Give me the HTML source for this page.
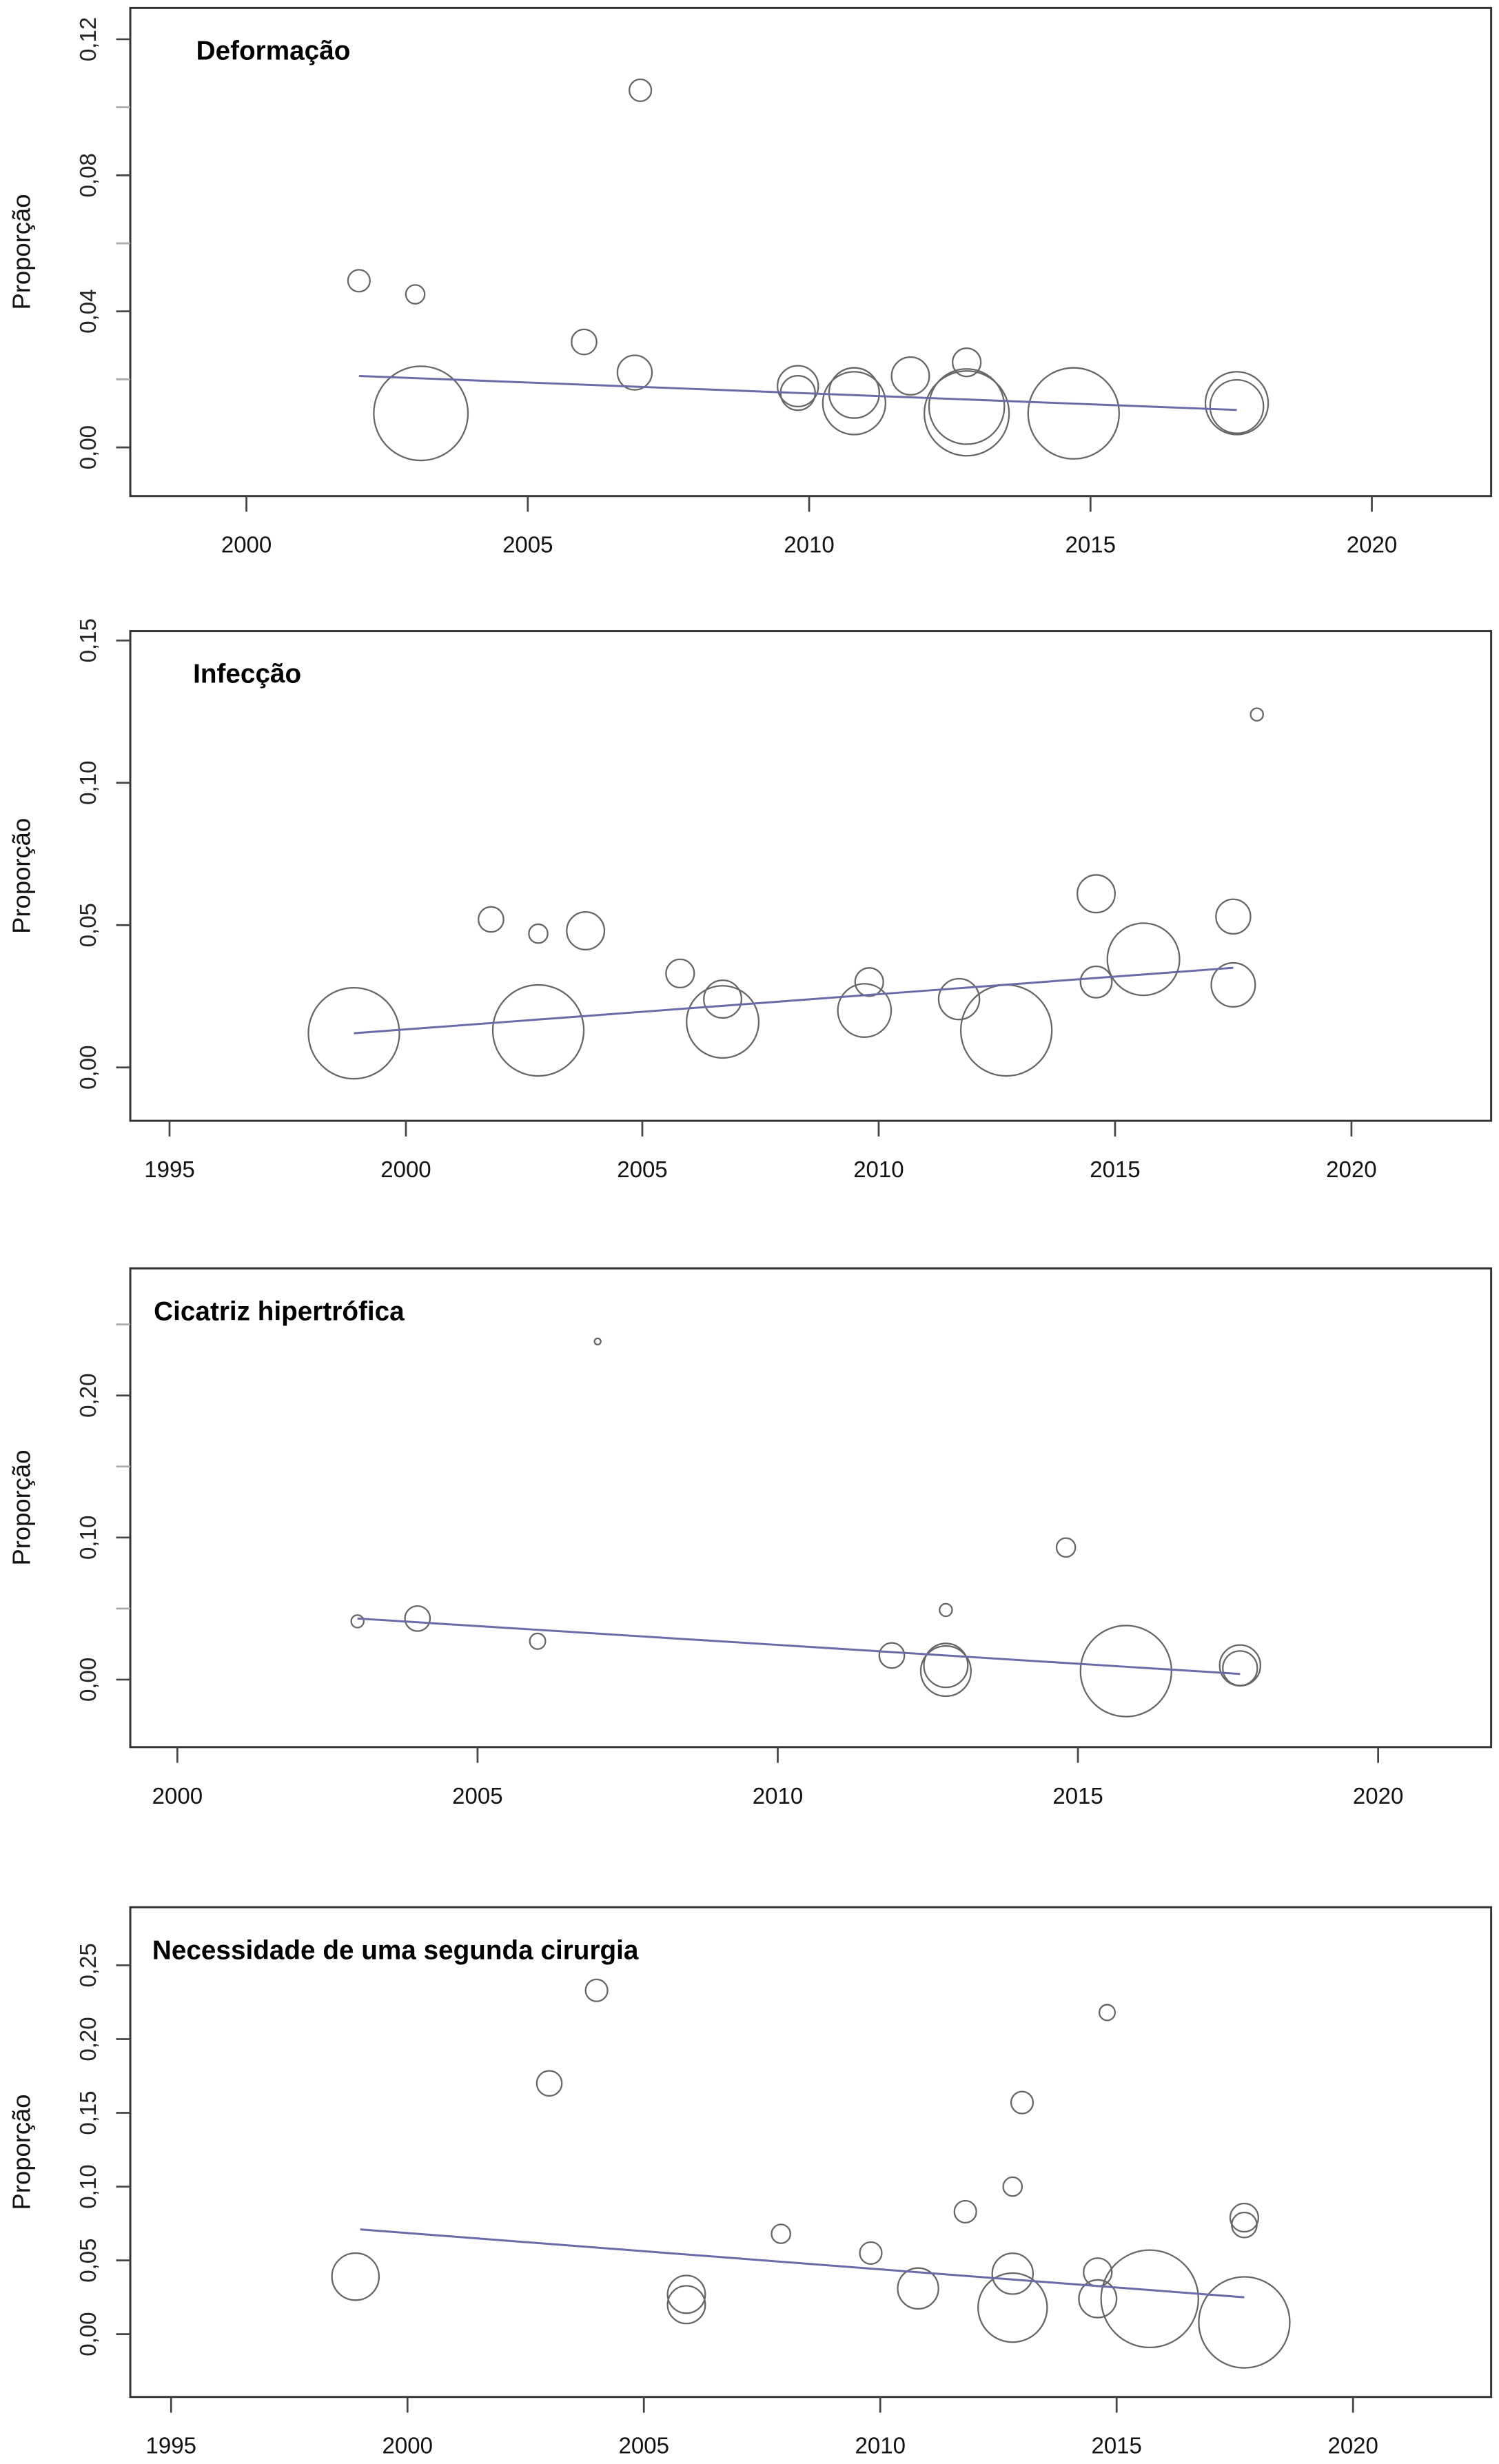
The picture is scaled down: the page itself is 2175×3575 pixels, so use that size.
<!DOCTYPE html>
<html><head><meta charset="utf-8"><style>
html,body{margin:0;padding:0;background:#fff;}
svg{display:block;}
text{font-family:"Liberation Sans",Arial,sans-serif;}
</style></head><body>
<svg id="chart" width="2175" height="3575" viewBox="0 0 955 1569.7" preserveAspectRatio="none" xmlns="http://www.w3.org/2000/svg"></svg>
<script>
// Panel 1: Deformação
const p1Years=[2002,2003,2003.1,2006,2007,2006.9,2009.8,2009.8,2010.8,2010.8,2011.8,2012.8,2012.8,2012.8,2014.7,2017.6,2017.6];
const p1Values=[0.049,0.045,0.010,0.031,0.105,0.022,0.018,0.016,0.016,0.013,0.021,0.025,0.012,0.010,0.010,0.013,0.012];
const p1Weights=[7,6,30,8,7,11,13,11,16,20,12,9,24,27,29,20,17];
const p1Trend=[[2002,0.021],[2017.6,0.011]];
const p1XTicks=[2000,2005,2010,2015,2020];
const p1YTicks=[0,0.02,0.04,0.06,0.08,0.10,0.12];
const p1YLabels=["0,00","","0,04","","0,08","","0,12"];
// Panel 2: Infecção
const p2Years=[1998.9,2001.8,2002.8,2002.8,2003.8,2005.8,2006.7,2006.7,2009.8,2009.7,2011.7,2012.7,2014.6,2014.6,2015.6,2017.5,2017.5,2018];
const p2Values=[0.012,0.052,0.047,0.013,0.048,0.033,0.024,0.016,0.030,0.020,0.024,0.013,0.061,0.030,0.038,0.053,0.029,0.124];
const p2Weights=[29,8,6,29,12,9,12,23,9,17,13,29,12,10,23,11,14,4];
const p2Trend=[[1998.9,0.012],[2017.5,0.035]];
const p2XTicks=[1995,2000,2005,2010,2015,2020];
const p2YTicks=[0,0.05,0.10,0.15];
const p2YLabels=["0,00","0,05","0,10","0,15"];
// Panel 3: Cicatriz hipertrófica
const p3Years=[2003,2004,2006,2007,2011.9,2012.8,2012.8,2012.8,2014.8,2015.8,2017.7,2017.7];
const p3Values=[0.041,0.043,0.027,0.238,0.017,0.049,0.010,0.006,0.093,0.006,0.010,0.008];
const p3Weights=[4,8,5,2,8,4,14,16,6,29,13,11];
const p3Trend=[[2003,0.043],[2017.7,0.004]];
const p3XTicks=[2000,2005,2010,2015,2020];
const p3YTicks=[0,0.05,0.10,0.15,0.20,0.25];
const p3YLabels=["0,00","","0,10","","0,20",""];
// Panel 4: Necessidade de uma segunda cirurgia
const p4Years=[1998.9,2003,2004,2005.9,2005.9,2007.9,2009.8,2010.8,2011.8,2012.8,2013,2012.8,2012.8,2014.8,2014.6,2014.6,2015.7,2017.7,2017.7,2017.7];
const p4Values=[0.039,0.170,0.233,0.027,0.020,0.068,0.055,0.031,0.083,0.100,0.157,0.041,0.018,0.218,0.042,0.024,0.024,0.079,0.074,0.008];
const p4Weights=[15,8,7,12,12,6,7,13,7,6,7,13,22,5,9,12,31,9,8,29];
const p4Trend=[[1999,0.071],[2017.7,0.025]];
const p4XTicks=[1995,2000,2005,2010,2015,2020];
const p4YTicks=[0,0.05,0.10,0.15,0.20,0.25];
const p4YLabels=["0,00","0,05","0,10","0,15","0,20","0,25"];

const NS="http://www.w3.org/2000/svg";
const svg=document.getElementById('chart');
function mk(tag,attrs,parent){const e=document.createElementNS(NS,tag);for(const k in attrs)e.setAttribute(k,attrs[k]);(parent||svg).appendChild(e);return e;}

function panel(cfg){
  const g=mk('g',{});
  
  
  const xs=v=>cfg.x0px+(v-cfg.x0)*(cfg.x1px-cfg.x0px)/(cfg.x1-cfg.x0);
  const ys=v=>cfg.y0px+(v-cfg.y0)*(cfg.y1px-cfg.y0px)/(cfg.y1-cfg.y0);
  const box=mk('rect',{x:83,y:cfg.top,width:867,height:cfg.bottom-cfg.top,fill:'none',stroke:'#333','stroke-width':1.3},g);
  
  
  cfg.xTicks.forEach(t=>{
    const l=mk('line',{x1:xs(t),x2:xs(t),y1:cfg.bottom,y2:cfg.bottom+10,stroke:'#444','stroke-width':1.2},g);
    
    
    const tx=mk('text',{x:xs(t),y:cfg.bottom+36,'text-anchor':'middle','font-size':14.5,fill:'#111'},g);
    tx.textContent=t;
    
    
  });
  cfg.yTicks.forEach((t,i)=>{
    const y=ys(t);
    const l=mk('line',{x1:74,x2:83,y1:y,y2:y,stroke:cfg.yLabels[i]?'#444':'#aaa','stroke-width':1.2},g);
    
    
    if(cfg.yLabels[i]){
      const tx=mk('text',{x:0,y:0,'text-anchor':'middle','font-size':14.5,fill:'#222',transform:`translate(61,${y}) rotate(-90)`},g);
      tx.textContent=cfg.yLabels[i];
      
      
    }
  });
  const yl=mk('text',{x:0,y:0,'text-anchor':'middle','font-size':16,fill:'#111',transform:`translate(19,${(cfg.top+cfg.bottom)/2}) rotate(-90)`},g);
  yl.textContent='Proporção';
  
  
  const ti=mk('text',{x:cfg.titleX,y:cfg.top+33,'font-size':17,'font-weight':'bold',fill:'#000'},g);
  ti.textContent=cfg.title;
  
  
  cfg.years.forEach((yr,i)=>{
    const c=mk('circle',{cx:xs(yr),cy:ys(cfg.values[i]),r:cfg.weights[i],fill:'none',stroke:'#666','stroke-width':1},g);
    
    
  });
  const tl=mk('line',{x1:xs(cfg.trend[0][0]),y1:ys(cfg.trend[0][1]),x2:xs(cfg.trend[1][0]),y2:ys(cfg.trend[1][1]),stroke:'#6a6aa8','stroke-width':1.3},g);
  
  
}

panel({name:'panel-deformacao',title:'Deformação',titleX:125,top:5,bottom:316,
  x0:2000,x1:2020,x0px:157,x1px:874,y0:0,y1:0.12,y0px:285,y1px:25,
  xTicks:p1XTicks,yTicks:p1YTicks,yLabels:p1YLabels,years:p1Years,values:p1Values,weights:p1Weights,trend:p1Trend});
panel({name:'panel-infeccao',title:'Infecção',titleX:123,top:402,bottom:714,
  x0:1995,x1:2020,x0px:108,x1px:861,y0:0,y1:0.15,y0px:680,y1px:408,
  xTicks:p2XTicks,yTicks:p2YTicks,yLabels:p2YLabels,years:p2Years,values:p2Values,weights:p2Weights,trend:p2Trend});
panel({name:'panel-cicatriz',title:'Cicatriz hipertrófica',titleX:98,top:808,bottom:1113,
  x0:2000,x1:2020,x0px:113,x1px:878,y0:0,y1:0.20,y0px:1070,y1px:889,
  xTicks:p3XTicks,yTicks:p3YTicks,yLabels:p3YLabels,years:p3Years,values:p3Values,weights:p3Weights,trend:p3Trend});
panel({name:'panel-segunda-cirurgia',title:'Necessidade de uma segunda cirurgia',titleX:97,top:1215,bottom:1527,
  x0:1995,x1:2020,x0px:109,x1px:862,y0:0,y1:0.25,y0px:1487,y1px:1252,
  xTicks:p4XTicks,yTicks:p4YTicks,yLabels:p4YLabels,years:p4Years,values:p4Values,weights:p4Weights,trend:p4Trend});
</script>
</body></html>
